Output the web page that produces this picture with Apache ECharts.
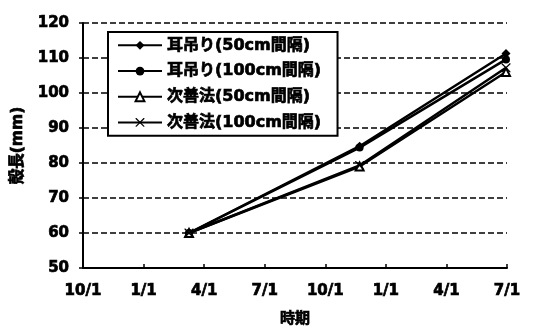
<!DOCTYPE html>
<html><head><meta charset="utf-8">
<script src="https://cdn.jsdelivr.net/npm/echarts@6/dist/echarts.min.js"></script>
<style>html,body{margin:0;padding:0;background:#fff}#c{width:546px;height:330px}</style>
</head><body><div id="c"></div>
<script>
// x positions in months since first 10/1
const xTickLabels = ['10/1','1/1','4/1','7/1','10/1','1/1','4/1','7/1'];
const xMonths = [5.25, 13.7, 20.95];
const seriesNames = ['耳吊り(50cm間隔)','耳吊り(100cm間隔)','次善法(50cm間隔)','次善法(100cm間隔)'];
const mimi50 = [60, 84.8, 111.3];
const mimi100 = [60, 84.4, 109.6];
const jizen50 = [60, 79.0, 106.0];
const jizen100 = [60, 79.3, 107.2];
const yTicks = [50,60,70,80,90,100,110,120];

const font = '"DejaVu Sans", "Noto Sans CJK JP", sans-serif';
const bold = {fontFamily:font, fontWeight:'bold', color:'#000', textBorderColor:'#000', textBorderWidth:0.7};
const symbols = ['diamond','circle','emptyTriangle','path://M0 0L1 0L5 4L9 0L10 0L10 1L6 5L10 9L10 10L9 10L5 6L1 10L0 10L0 9L4 5L0 1Z'];
const sizes = [9,8,8,9];
const vals = [mimi50, mimi100, jizen50, jizen100];

const series = seriesNames.map((n,i)=>({
  name:n, type:'line',
  data: xMonths.map((x,j)=>[x, vals[i][j]]),
  symbol: symbols[i], symbolSize: sizes[i],
  lineStyle:{color:'#000', width:2.5},
  itemStyle:{color:'#000', borderColor:'#000', borderWidth: i===2?2:0},
  z: 3
}));

const chart = echarts.init(document.getElementById('c'));
chart.setOption({
  animation:false,
  backgroundColor:'#fff',
  textStyle:{fontFamily:font},
  grid:{left:83, right:39, top:23, bottom:62, containLabel:false, outerBoundsMode:'none'},
  legend:{
    orient:'vertical', left:108, top:32,
    padding:[5,16,5,9],
    itemGap:9, itemWidth:44, itemHeight:11,
    borderColor:'#000', borderWidth:2, backgroundColor:'#fff',
    textStyle:Object.assign({fontSize:16}, bold),
    data: seriesNames
  },
  xAxis:{
    type:'value', min:0, max:21, interval:3,
    axisLine:{lineStyle:{color:'#000', width:2}},
    axisTick:{inside:true, length:4, lineStyle:{color:'#000', width:1.5}},
    splitLine:{show:false},
    axisLabel:Object.assign({margin:16, fontSize:15,
      formatter:(v)=> xTickLabels[Math.round(v/3)] }, bold),
    name:'時期', nameLocation:'middle', nameGap:44,
    nameTextStyle:Object.assign({fontSize:15}, bold)
  },
  yAxis:{
    type:'value', min:yTicks[0], max:yTicks[yTicks.length-1], interval:10,
    axisLine:{show:true, lineStyle:{color:'#000', width:2}},
    axisTick:{show:true, length:4, lineStyle:{color:'#000', width:1.5}},
    splitLine:{show:true, lineStyle:{color:'#000', type:'dashed', width:1.5}},
    axisLabel:Object.assign({margin:14, fontSize:15}, bold),
    name:'殻長(mm)', nameLocation:'middle', nameGap:56, nameRotate:90,
    nameTextStyle:Object.assign({fontSize:15.5}, bold)
  },
  series: series
});
</script></body></html>
